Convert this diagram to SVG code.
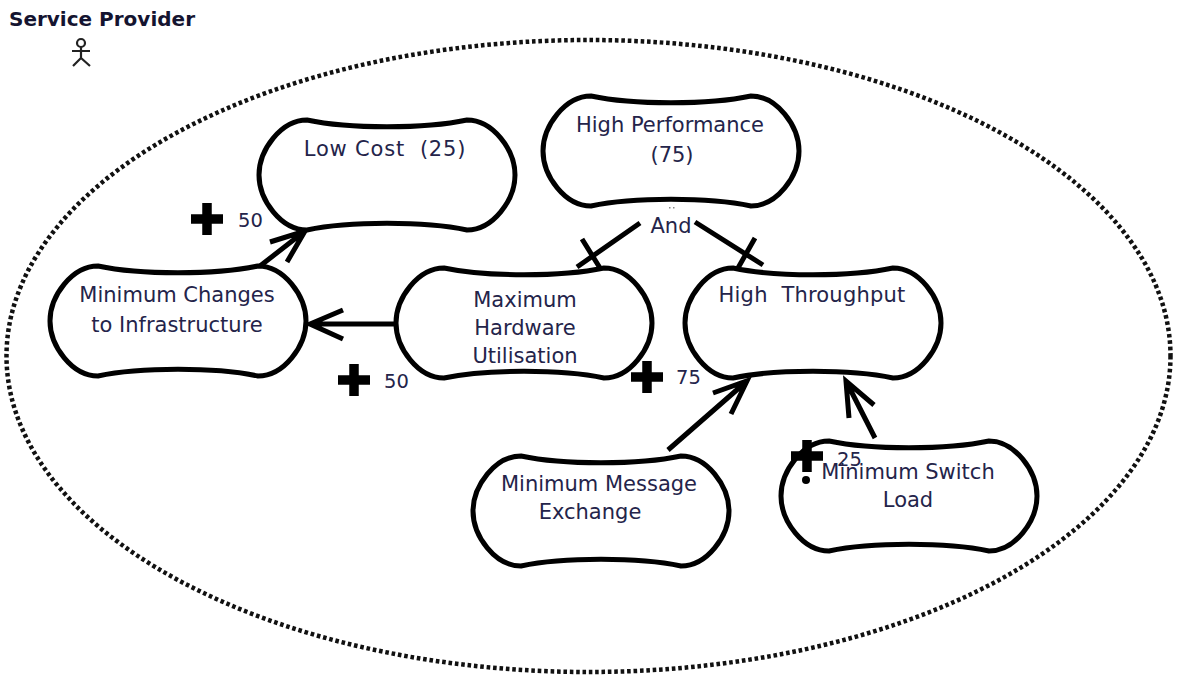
<svg xmlns="http://www.w3.org/2000/svg" width="1177" height="679" viewBox="0 0 1177 679">
<style>
text{font-family:"DejaVu Sans","Noto Sans",sans-serif;font-size:21px;fill:#24244a;text-anchor:middle;white-space:pre}
.s{fill:#fff;stroke:#000;stroke-width:5}
.c{fill:none;stroke:#000;stroke-width:5}
.p{fill:none;stroke:#000;stroke-width:9.5}
.n{font-size:19.5px;text-anchor:start}
</style>
<defs>
<path id="soft" class="s" d="M48,0C90,9 166,9 208,0C234,0 256,30 256,55C256,80 234,110 208,110C166,101 90,101 48,110C22,110 0,80 0,55C0,30 22,0 48,0Z"/>
<path id="plus" class="p" d="M-16,0H16M0,-16V16"/>
</defs>
<g id="boundary"><ellipse cx="588.5" cy="356" rx="582" ry="316" fill="none" stroke="#111" stroke-width="4.5" stroke-dasharray="3.6 2.8"/></g>
<g id="actor">
<text x="102" y="26" style="font-weight:700;font-size:20px;fill:#141430">Service Provider</text>
<g fill="none" stroke="#222" stroke-width="2.2"><circle cx="81" cy="43" r="4"/><path d="M81,47V58M72,51H90M73,66L81,58L90,66"/></g>
</g>
<g id="connectors">
<path class="c" d="M260,266L305,231M270,242L305,231L287,262"/>
<path class="c" d="M396,324H310M343,310L310,324L343,339"/>
<path class="c" d="M577,267L640,223M582,239L600,268"/>
<path class="c" d="M695,222L763,265M755,238L738,268"/>
<path class="c" d="M668,450L747,381M713,393L747,381L731,414"/>
<path class="c" d="M875,438L846,381M849,418L846,381L874,405"/>
</g>
<g id="low-cost"><use href="#soft" x="259" y="120"/><text x="385" y="156" style="letter-spacing:.8px">Low Cost  (25)</text></g>
<g id="high-performance"><use href="#soft" x="543" y="96"/><text x="670" y="132">High Performance</text><text x="672" y="162">(75)</text><g fill="#888"><rect x="669" y="207" width="1.5" height="1.5"/><rect x="673" y="207" width="1.5" height="1.5"/></g></g>
<g id="min-changes"><use href="#soft" x="50" y="266"/><text x="177" y="302">Minimum Changes</text><text x="177" y="332">to Infrastructure</text></g>
<g id="max-hardware"><use href="#soft" x="396" y="268"/><text x="525" y="307">Maximum</text><text x="525" y="335">Hardware</text><text x="525" y="363">Utilisation</text></g>
<g id="high-throughput"><use href="#soft" x="685" y="268"/><text x="812" y="302" style="letter-spacing:.2px">High  Throughput</text></g>
<g id="min-message"><use href="#soft" x="473" y="456"/><text x="599" y="491">Minimum Message</text><text x="590" y="519">Exchange</text></g>
<g id="min-switch"><use href="#soft" x="781" y="441"/><text x="908" y="479">Minimum Switch</text><text x="908" y="507">Load</text></g>
<g id="and"><text x="671" y="233">And</text></g>
<g id="contrib-labels">
<use href="#plus" x="207" y="219"/><text class="n" x="238" y="227">50</text>
<use href="#plus" x="354" y="380"/><text class="n" x="384" y="388">50</text>
<use href="#plus" x="647" y="377"/><text class="n" x="676" y="384">75</text>
<use href="#plus" x="807" y="456"/><circle cx="806" cy="480" r="4"/><text class="n" x="837" y="466">25</text>
</g>
</svg>
